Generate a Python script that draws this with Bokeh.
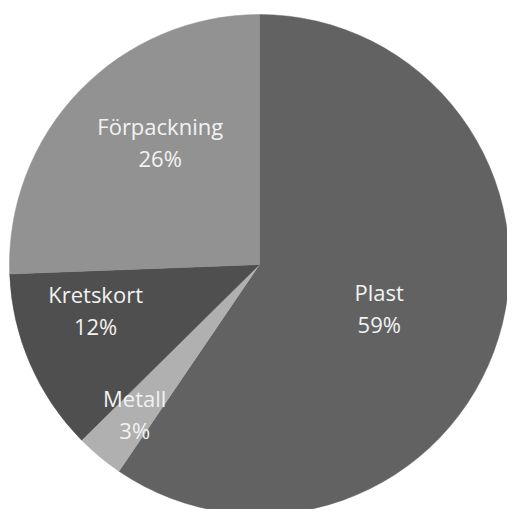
import math
from bokeh.plotting import figure
from bokeh.models import Range1d
from bokeh.embed import file_html
from bokeh.resources import INLINE
from bokeh.core.properties import value

# Data
categories = ["Plast", "Metall", "Kretskort", "Förpackning"]
shares = [59.5, 3.1, 11.8, 25.6]
pct_labels = ["59%", "3%", "12%", "26%"]
colors = ["#626262", "#b0b0b0", "#4f4f4f", "#929292"]

# Layout (label placement: radius fraction and angle tweak in degrees, clockwise)
label_rfrac = [0.51, 0.78, 0.68, 0.63]
label_dang = [3.0, 0.0, 8.0, 7.0]

W, H = 507, 509
cx_px, cy_px = 259, 264  # pie centre in figure pixels from top-left
R = 250

p = figure(width=W, height=H, output_backend="svg", toolbar_location=None,
           x_range=Range1d(-cx_px, W - cx_px), y_range=Range1d(-(H - cy_px), cy_px),
           min_border=0)
p.axis.visible = False
p.grid.visible = False
p.outline_line_color = None
p.background_fill_color = "white"
p.border_fill_color = "white"

total = sum(shares)
cum = 0.0
starts, ends, mids = [], [], []
for s in shares:
    a0 = math.pi / 2 - 2 * math.pi * cum / total
    cum += s
    a1 = math.pi / 2 - 2 * math.pi * cum / total
    starts.append(a0)
    ends.append(a1)
    mids.append((a0 + a1) / 2)

p.wedge(x=0, y=0, radius=R, start_angle=starts, end_angle=ends, direction="clock",
        fill_color=colors, line_color=colors, line_width=0.5)

lx, ly = [], []
for m, rf, da in zip(mids, label_rfrac, label_dang):
    a = m - math.radians(da)
    lx.append(R * rf * math.cos(a))
    ly.append(R * rf * math.sin(a))

common = dict(text_font=value("Open Sans"), text_font_size="22px", text_color="#f2f2f2",
              text_align="center", text_baseline="middle")
p.text(x=lx, y=[y + 16 for y in ly], text=categories, **common)
p.text(x=lx, y=[y - 16 for y in ly], text=pct_labels, **common)

open("out.html", "w").write(file_html(p, INLINE))
